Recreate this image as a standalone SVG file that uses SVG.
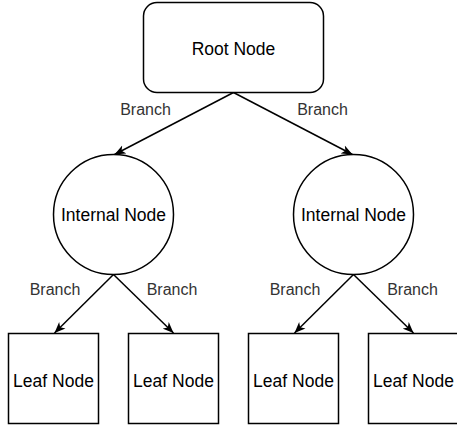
<svg xmlns="http://www.w3.org/2000/svg" width="457" height="425" viewBox="0 0 457 425">
<defs>
<style>
.node{fill:#fff;stroke:#000;stroke-width:1.5}
.lbl{font-family:"Liberation Sans",Arial,sans-serif;font-size:17.5px;fill:#000;text-anchor:middle}
.br{font-family:"Liberation Sans",Arial,sans-serif;font-size:16px;fill:#333;text-anchor:middle}
.edge{fill:none;stroke:#000;stroke-width:1.5}
</style>
<marker id="arr" viewBox="0 0 12 10" refX="11" refY="5" markerWidth="12" markerHeight="10" markerUnits="userSpaceOnUse" orient="auto">
<path d="M0,0.5 L11,5 L0,9.5 L3,5 Z" fill="#000"/>
</marker>
</defs>
<rect width="457" height="425" fill="#fff"/>
<g id="connectors">
<line class="edge" x1="233.5" y1="92.5" x2="114.5" y2="154.5" marker-end="url(#arr)"/>
<line class="edge" x1="233.5" y1="92.5" x2="352.5" y2="154.5" marker-end="url(#arr)"/>
<line class="edge" x1="113.5" y1="274.5" x2="54.5" y2="333" marker-end="url(#arr)"/>
<line class="edge" x1="113.5" y1="274.5" x2="173.5" y2="333" marker-end="url(#arr)"/>
<line class="edge" x1="353.5" y1="274.5" x2="294.5" y2="333" marker-end="url(#arr)"/>
<line class="edge" x1="353.5" y1="274.5" x2="413.5" y2="333" marker-end="url(#arr)"/>
<text class="br" x="145.5" y="115">Branch</text>
<text class="br" x="322.5" y="115">Branch</text>
<text class="br" x="55" y="295">Branch</text>
<text class="br" x="172" y="295">Branch</text>
<text class="br" x="295" y="295">Branch</text>
<text class="br" x="412.5" y="295">Branch</text>
</g>
<g id="root">
<rect class="node" x="143.5" y="2.5" width="180" height="90" rx="13.5"/>
<text class="lbl" x="233.5" y="54.5">Root Node</text>
</g>
<g id="internal-left">
<circle class="node" cx="113.5" cy="214.5" r="60"/>
<text class="lbl" x="113.5" y="220.5">Internal Node</text>
</g>
<g id="internal-right">
<circle class="node" cx="353.5" cy="214.5" r="60"/>
<text class="lbl" x="353.5" y="220.5">Internal Node</text>
</g>
<g id="leaf1">
<rect class="node" x="8.5" y="333.5" width="90" height="90"/>
<text class="lbl" x="53.5" y="386.5">Leaf Node</text>
</g>
<g id="leaf2">
<rect class="node" x="128.5" y="333.5" width="90" height="90"/>
<text class="lbl" x="173.5" y="386.5">Leaf Node</text>
</g>
<g id="leaf3">
<rect class="node" x="248.5" y="333.5" width="90" height="90"/>
<text class="lbl" x="293.5" y="386.5">Leaf Node</text>
</g>
<g id="leaf4">
<rect class="node" x="368.5" y="333.5" width="90" height="90"/>
<text class="lbl" x="413.5" y="386.5">Leaf Node</text>
</g>
</svg>
